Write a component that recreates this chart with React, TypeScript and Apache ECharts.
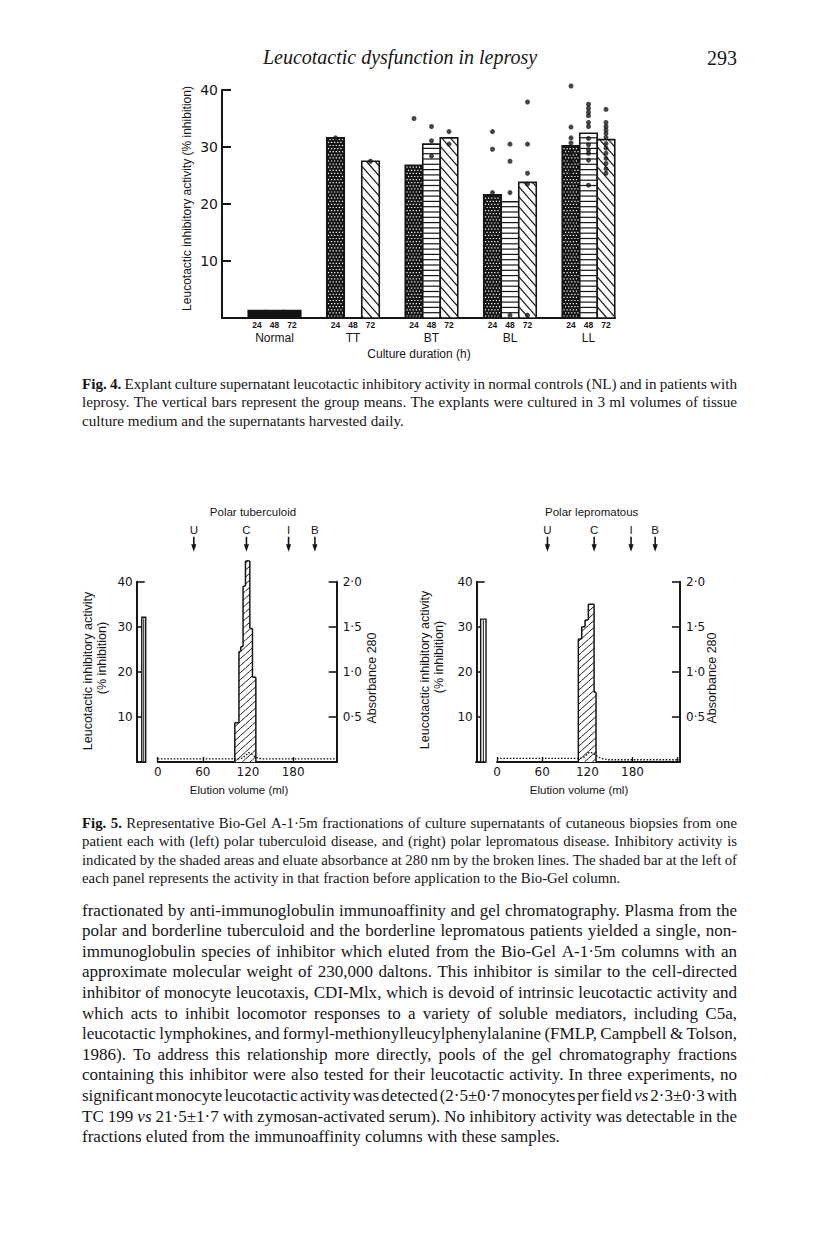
import React, { useEffect, useRef } from 'react';
import * as echarts from 'echarts';

const INK = '#161616';
const SANS = '"Liberation Sans", Arial, sans-serif';
const NUM = '"DejaVu Sans", sans-serif';
const SERIF = '"Liberation Serif", "Times New Roman", serif';

// ---------------- Fig. 4 data ----------------
const groupNames = ['Normal', 'TT', 'BT', 'BL', 'LL'];
const durationLabels = ['24', '48', '72'];
const mean24h = [1.3, 31.6, 26.8, 21.6, 30.2];
const mean48h = [1.3, null, 30.5, 20.4, 32.4];
const mean72h = [1.3, 27.5, 31.6, 23.8, 31.3];
const pointsNormal = [[], [], []];
const pointsTT = [[31.6], [], [27.5]];
const pointsBT = [[35.0], [33.6, 31.1, 28.4], [32.7, 30.5]];
const pointsBL = [[32.7, 29.6, 22.0], [30.5, 27.5, 22.0, 0.5], [37.9, 30.5, 25.4, 23.5, 0.5]];
const pointsLL = [
  [40.7, 33.5, 31.6, 30.7, 29.0, 27.5, 25.7],
  [37.5, 36.8, 36.1, 35.5, 34.3, 33.6, 31.5, 30.4, 29.5, 28.9, 27.7, 23.3],
  [36.6, 34.3, 33.6, 33.0, 32.4, 31.7, 30.6, 29.8, 28.9, 28.0, 27.1, 26.2, 25.4],
];

// ---------------- Fig. 5 data ----------------
const markerLabels = ['U', 'C', 'I', 'B'];
// polar tuberculoid (left)
const ptMarkers = [48, 118, 174, 209];
const ptPreStart = [-21.2];
const ptPreEnd = [-15.9];
const ptPreActivity = [32.1];
const ptFracStart = [102.5, 108, 110.5, 113.5, 116.7, 122.5, 126];
const ptFracEnd = [108, 110.5, 113.5, 116.7, 122.5, 126, 130.5];
const ptActivity = [8.7, 24.5, 25.6, 39.0, 44.6, 29.6, 18.8];
const ptAbsVolume = [0, 108, 113, 117, 121, 125, 129, 134, 140, 238];
const ptAbsorbance = [0.035, 0.035, 0.045, 0.075, 0.105, 0.09, 0.06, 0.04, 0.035, 0.035];
// polar lepromatous (right)
const plMarkers = [67, 129, 178, 210];
const plPreStart = [-21.7];
const plPreEnd = [-14.6];
const plPreActivity = [31.7];
const plFracStart = [108, 112.5, 116.9, 121.3, 128.9];
const plFracEnd = [112.5, 116.9, 121.3, 128.9, 131.5];
const plActivity = [27.3, 30.0, 31.5, 35.0, 15.5];
const plAbsVolume = [0, 110, 115, 119, 123, 127, 132, 138, 148, 243];
const plAbsorbance = [0.04, 0.04, 0.05, 0.08, 0.11, 0.1, 0.07, 0.04, 0.025, 0.025];

// ---------------- texts ----------------
type Seg = { t: string; k: 'n' | 'b' | 'i' };
const fig4Caption: Seg[][] = [
  [{ t: 'Fig. 4.', k: 'b' }, { t: 'Explant culture supernatant leucotactic inhibitory activity in normal controls (NL) and in patients with', k: 'n' }],
  [{ t: 'leprosy. The vertical bars represent the group means. The explants were cultured in 3 ml volumes of tissue', k: 'n' }],
  [{ t: 'culture medium and the supernatants harvested daily.', k: 'n' }],
];
const fig5Caption: Seg[][] = [
  [{ t: 'Fig. 5.', k: 'b' }, { t: 'Representative Bio-Gel A-1·5m fractionations of culture supernatants of cutaneous biopsies from one', k: 'n' }],
  [{ t: 'patient each with (left) polar tuberculoid disease, and (right) polar lepromatous disease. Inhibitory activity is', k: 'n' }],
  [{ t: 'indicated by the shaded areas and eluate absorbance at 280 nm by the broken lines. The shaded bar at the left of', k: 'n' }],
  [{ t: 'each panel represents the activity in that fraction before application to the Bio-Gel column.', k: 'n' }],
];
const bodyLines: Seg[][] = [
  [{ t: 'fractionated by anti-immunoglobulin immunoaffinity and gel chromatography. Plasma from the', k: 'n' }],
  [{ t: 'polar and borderline tuberculoid and the borderline lepromatous patients yielded a single, non-', k: 'n' }],
  [{ t: 'immunoglobulin species of inhibitor which eluted from the Bio-Gel A-1·5m columns with an', k: 'n' }],
  [{ t: 'approximate molecular weight of 230,000 daltons. This inhibitor is similar to the cell-directed', k: 'n' }],
  [{ t: 'inhibitor of monocyte leucotaxis, CDI-Mlx, which is devoid of intrinsic leucotactic activity and', k: 'n' }],
  [{ t: 'which acts to inhibit locomotor responses to a variety of soluble mediators, including C5a,', k: 'n' }],
  [{ t: 'leucotactic lymphokines, and formyl-methionylleucylphenylalanine (FMLP, Campbell & Tolson,', k: 'n' }],
  [{ t: '1986). To address this relationship more directly, pools of the gel chromatography fractions', k: 'n' }],
  [{ t: 'containing this inhibitor were also tested for their leucotactic activity. In three experiments, no', k: 'n' }],
  [{ t: 'significant monocyte leucotactic activity was detected (2·5±0·7 monocytes per field', k: 'n' }, { t: 'vs', k: 'i' }, { t: '2·3±0·3 with', k: 'n' }],
  [{ t: 'TC 199', k: 'n' }, { t: 'vs', k: 'i' }, { t: '21·5±1·7 with zymosan-activated serum). No inhibitory activity was detectable in the', k: 'n' }],
  [{ t: 'fractions eluted from the immunoaffinity columns with these samples.', k: 'n' }],
];

const BAR_W = 0.223;

let measureCtx: CanvasRenderingContext2D | null = null;
function textWidth(t: string, font: string): number {
  if (!measureCtx) measureCtx = document.createElement('canvas').getContext('2d');
  measureCtx!.font = font;
  return measureCtx!.measureText(t).width;
}
function segFont(k: string, size: number, family: string) {
  return `${k === 'b' ? 'bold ' : ''}${k === 'i' ? 'italic ' : ''}${size.toFixed(2)}px ${family}`;
}
function textEl(text: string, x: number, y: number, font: string, align = 'center', rotation = 0) {
  return {
    type: 'text', x, y, rotation, silent: true,
    style: { text, font, fill: INK, align, verticalAlign: 'middle', textAlign: align, textVerticalAlign: 'middle' },
  };
}
// justified paragraph, word by word
function paragraph(lines: Seg[][], x0: number, y0: number, gap: number, width: number, base: number, family: string) {
  const els: any[] = [];
  const words = lines.map((segs) => {
    const out: { w: string; k: string }[] = [];
    segs.forEach((g) => g.t.split(' ').filter(Boolean).forEach((w) => out.push({ w, k: g.k })));
    return out;
  });
  const natural = (ws: { w: string; k: string }[], size: number) =>
    ws.reduce((s, o) => s + textWidth(o.w, segFont(o.k, size, family)), 0) + (ws.length - 1) * textWidth(' ', segFont('n', size, family));
  const ratios = words.slice(0, -1).map((ws) => width / natural(ws, base)).sort((a, b) => a - b);
  const med = ratios.length ? ratios[Math.floor(ratios.length / 2)] : 1;
  const size = base * Math.min(med, 1.12) * 0.985;
  words.forEach((ws, i) => {
    const y = y0 + i * gap;
    const justify = i < words.length - 1 && ws.length > 1;
    let sz = size;
    let widths = ws.map((o) => textWidth(o.w, segFont(o.k, sz, family)));
    let sum = widths.reduce((a, b) => a + b, 0);
    const minGap = 0.5 * textWidth(' ', segFont('n', sz, family));
    if (justify && sum + minGap * (ws.length - 1) > width) {
      sz = sz * (width - minGap * (ws.length - 1)) / sum;
      widths = ws.map((o) => textWidth(o.w, segFont(o.k, sz, family)));
      sum = widths.reduce((a, b) => a + b, 0);
    }
    const space = justify ? (width - sum) / (ws.length - 1) : textWidth(' ', segFont('n', sz, family));
    let x = x0;
    ws.forEach((o, j) => {
      els.push(textEl(o.w, x, y, segFont(o.k, sz, family), 'left'));
      x += widths[j] + space;
    });
  });
  return els;
}

function hatch(x: number, y: number, w: number, h: number, s: number, step: number, style: any, out: any[]) {
  const cs = [[x, y], [x + w, y], [x, y + h], [x + w, y + h]].map(([cx, cy]) => cy - s * cx);
  const cmin = Math.min(...cs), cmax = Math.max(...cs);
  for (let c = Math.ceil(cmin / step) * step; c <= cmax; c += step) {
    let xa: number, xb: number;
    if (s > 0) { xa = Math.max(x, (y - c) / s); xb = Math.min(x + w, (y + h - c) / s); }
    else { xa = Math.max(x, (y + h - c) / s); xb = Math.min(x + w, (y - c) / s); }
    if (xb - xa > 0.4) out.push({ type: 'line', shape: { x1: xa, y1: s * xa + c, x2: xb, y2: s * xb + c }, style });
  }
}

function renderFig4Bar(params: any, api: any) {
  const g = api.value(0), d = api.value(1), v = api.value(2);
  const xc = g + (d - 1) * BAR_W;
  const p0 = api.coord([xc - BAR_W / 2, v]);
  const p1 = api.coord([xc + BAR_W / 2, 0]);
  const x = p0[0], y = p0[1], w = p1[0] - p0[0], h = p1[1] - p0[1];
  const kids: any[] = [];
  const pattern = g === 0 ? 'solid' : ['dots', 'horiz', 'diag'][d];
  kids.push({ type: 'rect', shape: { x, y, width: w, height: h }, style: { fill: pattern === 'solid' ? '#111' : pattern === 'dots' ? '#151515' : '#fff' } });
  if (pattern === 'dots') {
    let r = 0;
    for (let yy = y + h - 2; yy > y + 1.2; yy -= 3.1, r++) {
      for (let xx = x + 1.8 + (r % 2) * 1.55; xx < x + w - 1.2; xx += 3.1) {
        kids.push({ type: 'rect', shape: { x: xx - 0.6, y: yy - 0.6, width: 1.2, height: 1.2 }, style: { fill: '#fff' } });
      }
    }
  } else if (pattern === 'horiz') {
    for (let yy = y + h - 5.3; yy > y + 1; yy -= 5.3) {
      kids.push({ type: 'line', shape: { x1: x, y1: yy, x2: x + w, y2: yy }, style: { stroke: INK, lineWidth: 1.2 } });
    }
  } else if (pattern === 'diag') {
    hatch(x, y, w, h, 1.15, 10, { stroke: INK, lineWidth: 1.2 }, kids);
  }
  kids.push({ type: 'rect', shape: { x, y, width: w, height: h }, style: { fill: 'none', stroke: INK, lineWidth: 1.6 } });
  return { type: 'group', children: kids };
}

function renderFig4Labels(params: any, api: any) {
  const g = api.value(0);
  const base = api.coord([g, 0]);
  const kids: any[] = [];
  durationLabels.forEach((lab, d) => {
    const px = api.coord([g + (d - 1) * BAR_W, 0])[0];
    kids.push({ type: 'text', x: px, y: base[1] + 6.5, style: { text: lab, font: `bold 8.5px ${SANS}`, fill: INK, align: 'center', verticalAlign: 'middle', textAlign: 'center', textVerticalAlign: 'middle' } });
  });
  kids.push({ type: 'text', x: base[0], y: base[1] + 20, style: { text: groupNames[g], font: `12px ${SANS}`, fill: INK, align: 'center', verticalAlign: 'middle', textAlign: 'center', textVerticalAlign: 'middle' } });
  return { type: 'group', children: kids };
}

// data item: [start, end, value, previousValue, isLast]
function renderFraction(params: any, api: any) {
  const v = api.value(2), prev = api.value(3), last = api.value(4);
  const p0 = api.coord([api.value(0), v]);
  const p1 = api.coord([api.value(1), 0]);
  const x = p0[0], y = p0[1], w = p1[0] - p0[0], h = p1[1] - p0[1];
  const yPrev = api.coord([api.value(0), prev])[1];
  const kids: any[] = [{ type: 'rect', shape: { x, y, width: w, height: h }, style: { fill: '#fff' } }];
  hatch(x, y, w, h, -0.9, 7, { stroke: INK, lineWidth: 1 }, kids);
  const ls = { stroke: INK, lineWidth: 1.5 };
  kids.push({ type: 'line', shape: { x1: x, y1: y, x2: x + w, y2: y }, style: ls });
  kids.push({ type: 'line', shape: { x1: x, y1: Math.min(y, yPrev), x2: x, y2: Math.max(y, yPrev) }, style: ls });
  if (last) kids.push({ type: 'line', shape: { x1: x + w, y1: y, x2: x + w, y2: y + h }, style: ls });
  return { type: 'group', children: kids };
}

function renderPreBar(params: any, api: any) {
  const p0 = api.coord([api.value(0), api.value(2)]);
  const p1 = api.coord([api.value(1), 0]);
  const x = p0[0], y = p0[1], w = p1[0] - p0[0], h = p1[1] - p0[1];
  return {
    type: 'group',
    children: [
      { type: 'line', shape: { x1: x - 5.5, y1: p1[1], x2: x + w, y2: p1[1] }, style: { stroke: INK, lineWidth: 1.8 } },
      { type: 'rect', shape: { x, y, width: w, height: h }, style: { fill: '#fff', stroke: INK, lineWidth: 1.4 } },
      { type: 'line', shape: { x1: x + w / 2, y1: y + 1, x2: x + w / 2, y2: y + h }, style: { stroke: INK, lineWidth: 1 } },
    ],
  };
}

function makeMarkerRenderer(labels: string[]) {
  return (params: any, api: any) => {
    const x = api.coord([api.value(0), 0])[0];
    const top = api.coord([api.value(0), 40])[1];
    return {
      type: 'group',
      children: [
        { type: 'text', x, y: top - 51.5, style: { text: labels[params.dataIndex], font: `11.5px ${SANS}`, fill: INK, align: 'center', verticalAlign: 'middle', textAlign: 'center', textVerticalAlign: 'middle' } },
        { type: 'line', shape: { x1: x, y1: top - 45, x2: x, y2: top - 35 }, style: { stroke: INK, lineWidth: 1.6 } },
        { type: 'polygon', shape: { points: [[x - 2.6, top - 37.5], [x + 2.6, top - 37.5], [x, top - 30]] }, style: { fill: INK } },
      ],
    };
  };
}

function buildOption() {
  const barData: number[][] = [];
  [mean24h, mean48h, mean72h].forEach((arr, d) => arr.forEach((v, g) => { if (v != null) barData.push([g, d, v]); }));
  const pointData: number[][] = [];
  [pointsNormal, pointsTT, pointsBT, pointsBL, pointsLL].forEach((grp, g) =>
    grp.forEach((vals, d) => vals.forEach((v) => pointData.push([g + (d - 1) * BAR_W, v]))));

  const zip3 = (a: number[], b: number[], c: number[]) => a.map((v, i) => [v, b[i], c[i]]);
  const zip2 = (a: number[], b: number[]) => a.map((v, i) => [v, b[i]]);
  const fractions = (s: number[], e: number[], v: number[]) =>
    s.map((x, i) => [x, e[i], v[i], i === 0 ? 0 : v[i - 1], i === s.length - 1 ? 1 : 0]);

  const fig5Y = (grid: number, offset: number) => ([
    {
      gridIndex: grid, type: 'value', position: 'left', offset, min: 0, max: 40, interval: 10,
      axisLine: { show: true, onZero: false, lineStyle: { color: INK, width: 2 } },
      axisTick: { show: true, inside: true, length: 8, lineStyle: { color: INK, width: 1.6 } },
      axisLabel: { color: INK, fontFamily: NUM, fontSize: 12, margin: 4, formatter: (v: number) => (v === 0 ? '' : String(v)) },
      splitLine: { show: false },
    },
    {
      gridIndex: grid, type: 'value', position: 'right', min: 0, max: 2, interval: 0.5,
      axisLine: { show: true, onZero: false, lineStyle: { color: INK, width: 2 } },
      axisTick: { show: true, inside: true, length: 8, lineStyle: { color: INK, width: 1.6 } },
      axisLabel: { color: INK, fontFamily: NUM, fontSize: 12, margin: 6, formatter: (v: number) => (v === 0 ? '' : v.toFixed(1).replace('.', '·')) },
      splitLine: { show: false },
    },
  ]);
  const fig5X = (grid: number, max: number) => ({
    gridIndex: grid, type: 'value', min: 0, max, interval: 60,
    axisLine: { show: true, onZero: false, lineStyle: { color: INK, width: 1.8 } },
    axisTick: { show: true, inside: true, length: 5, lineStyle: { color: INK, width: 1.3 } },
    axisLabel: { color: INK, fontFamily: NUM, fontSize: 12, margin: 4, showMaxLabel: false, formatter: (v: number) => (v > 200 ? '' : String(v)) },
    splitLine: { show: false },
  });

  const graphic: any[] = [
    textEl('Leucotactic dysfunction in leprosy', 400, 57, `italic 20px ${SERIF}`, 'center'),
    textEl('293', 737, 58, `20px ${SERIF}`, 'right'),
    textEl('Leucotactic inhibitory activity (% inhibition)', 187, 198.5, `12px ${SANS}`, 'center', Math.PI / 2),
    textEl('Culture duration (h)', 419, 354, `12px ${SANS}`, 'center'),
    textEl('Polar tuberculoid', 253, 512.3, `11.5px ${SANS}`, 'center'),
    textEl('Polar lepromatous', 591.7, 512.3, `11.5px ${SANS}`, 'center'),
    textEl('Leucotactic inhibitory activity', 88, 671, `12.5px ${SANS}`, 'center', Math.PI / 2),
    textEl('(% inhibition)', 102, 658, `12.5px ${SANS}`, 'center', Math.PI / 2),
    textEl('Leucotactic inhibitory activity', 425, 670, `12.5px ${SANS}`, 'center', Math.PI / 2),
    textEl('(% inhibition)', 438.5, 657, `12.5px ${SANS}`, 'center', Math.PI / 2),
    textEl('Absorbance 280', 372, 678, `12.5px ${SANS}`, 'center', Math.PI / 2),
    textEl('Absorbance 280', 712, 678, `12.5px ${SANS}`, 'center', Math.PI / 2),
    textEl('Elution volume (ml)', 239, 790, `11.5px ${SANS}`, 'center'),
    textEl('Elution volume (ml)', 579, 790, `11.5px ${SANS}`, 'center'),
    ...paragraph(fig4Caption, 82, 383.5, 18.3, 655, 14, SERIF),
    ...paragraph(fig5Caption, 82, 823, 18.3, 655, 14, SERIF),
    ...paragraph(bodyLines, 82, 910, 20.6, 655, 16.5, SERIF),
  ];

  return {
    animation: false,
    backgroundColor: '#ffffff',
    grid: [
      { left: 222, top: 90, width: 393, height: 228, outerBoundsMode: 'none' },
      { left: 157.7, top: 581.7, width: 179, height: 180.3, outerBoundsMode: 'none' },
      { left: 497, top: 581.7, width: 183, height: 180.3, outerBoundsMode: 'none' },
    ],
    xAxis: [
      {
        gridIndex: 0, type: 'value', min: -0.669, max: 4.3376,
        axisLine: { show: true, onZero: false, lineStyle: { color: INK, width: 2 } },
        axisTick: { show: false }, axisLabel: { show: false }, splitLine: { show: false },
      },
      fig5X(1, 238),
      fig5X(2, 243),
    ],
    yAxis: [
      {
        gridIndex: 0, type: 'value', min: 0, max: 40, interval: 10,
        axisLine: { show: true, onZero: false, lineStyle: { color: INK, width: 2 } },
        axisTick: { show: true, inside: true, length: 9, lineStyle: { color: INK, width: 2 } },
        axisLabel: { color: INK, fontFamily: NUM, fontSize: 14, margin: 4, formatter: (v: number) => (v === 0 ? '' : String(v)) },
        splitLine: { show: false },
      },
      ...fig5Y(1, 21),
      ...fig5Y(2, 20.3),
    ],
    series: [
      { type: 'custom', name: 'Group means', xAxisIndex: 0, yAxisIndex: 0, data: barData, renderItem: renderFig4Bar, clip: false, z: 2 },
      { type: 'scatter', name: 'Individual explants', xAxisIndex: 0, yAxisIndex: 0, data: pointData, symbol: 'circle', symbolSize: 5, itemStyle: { color: INK }, clip: false, z: 4 },
      { type: 'custom', name: 'Labels', xAxisIndex: 0, yAxisIndex: 0, data: groupNames.map((_, i) => [i, 0]), renderItem: renderFig4Labels, clip: false, z: 3 },

      { type: 'custom', name: 'PT pre-column', xAxisIndex: 1, yAxisIndex: 1, data: zip3(ptPreStart, ptPreEnd, ptPreActivity), renderItem: renderPreBar, clip: false },
      { type: 'custom', name: 'PT activity', xAxisIndex: 1, yAxisIndex: 1, data: fractions(ptFracStart, ptFracEnd, ptActivity), renderItem: renderFraction, clip: false },
      { type: 'line', name: 'PT absorbance', xAxisIndex: 1, yAxisIndex: 2, data: zip2(ptAbsVolume, ptAbsorbance), showSymbol: false, symbol: 'none', lineStyle: { color: INK, width: 1.3, type: [1.6, 1.6] }, z: 5 },
      { type: 'custom', name: 'PT markers', xAxisIndex: 1, yAxisIndex: 1, data: ptMarkers.map((v) => [v, 0]), renderItem: makeMarkerRenderer(markerLabels), clip: false },

      { type: 'custom', name: 'PL pre-column', xAxisIndex: 2, yAxisIndex: 3, data: zip3(plPreStart, plPreEnd, plPreActivity), renderItem: renderPreBar, clip: false },
      { type: 'custom', name: 'PL activity', xAxisIndex: 2, yAxisIndex: 3, data: fractions(plFracStart, plFracEnd, plActivity), renderItem: renderFraction, clip: false },
      { type: 'line', name: 'PL absorbance', xAxisIndex: 2, yAxisIndex: 4, data: zip2(plAbsVolume, plAbsorbance), showSymbol: false, symbol: 'none', lineStyle: { color: INK, width: 1.3, type: [1.6, 1.6] }, z: 5 },
      { type: 'custom', name: 'PL markers', xAxisIndex: 2, yAxisIndex: 3, data: plMarkers.map((v) => [v, 0]), renderItem: makeMarkerRenderer(markerLabels), clip: false },
    ],
    graphic,
  };
}

export default function App() {
  const ref = useRef<HTMLDivElement>(null);
  useEffect(() => {
    if (!ref.current) return;
    const chart = echarts.init(ref.current, null, { renderer: 'svg' });
    chart.setOption(buildOption() as any);
    return () => chart.dispose();
  }, []);
  return <div ref={ref} style={{ position: 'absolute', left: 0, top: 0, width: 816, height: 1250, background: '#fff' }} />;
}
